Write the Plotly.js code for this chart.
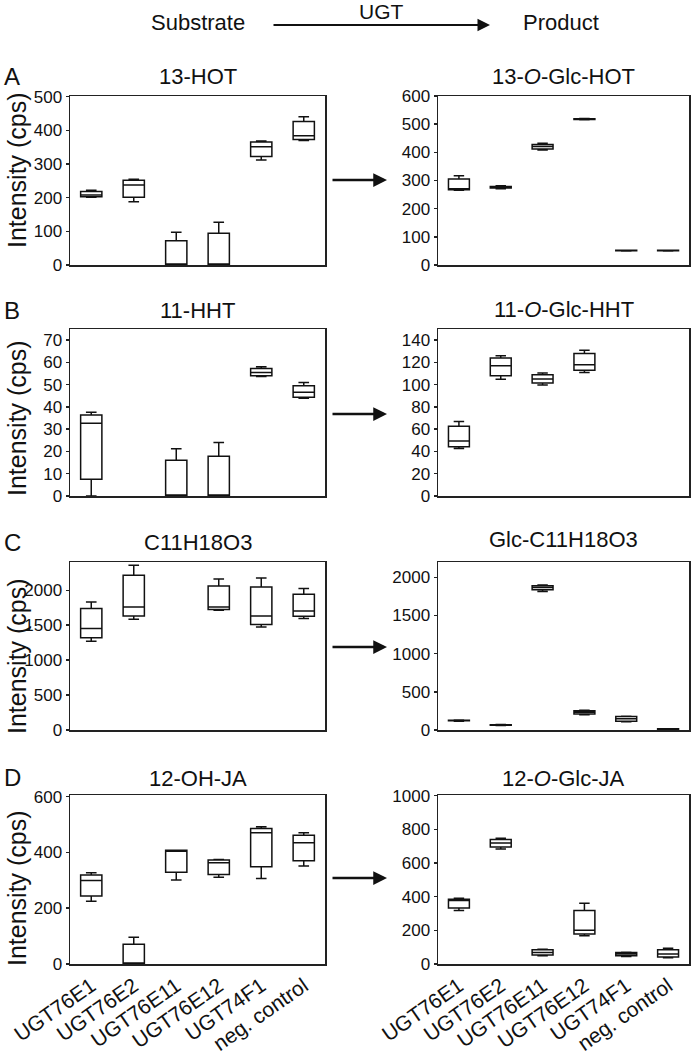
<!DOCTYPE html>
<html>
<head>
<meta charset="utf-8">
<script src="https://cdn.plot.ly/plotly-3.0.1.min.js"></script>
<style>html,body{margin:0;padding:0;background:#fff}#chart{width:693px;height:1056px}</style>
</head>
<body>
<div id="chart"></div>
<script>
// Categories (x axis)
const categories = ['UGT76E1', 'UGT76E2', 'UGT76E11', 'UGT76E12', 'UGT74F1', 'neg. control'];

// Five-number summaries per category: [lower whisker, Q1, median, Q3, upper whisker]; null = no box
const hot13 = [[201,203,208,218,222],[188,201,238,252,255],[0,0,0,72,97],[0,0,0,94,127],[312,322,351,365,368],[370,373,384,426,440]];
const glcHot13 = [[265,267,268,305,317],[271,273,276,279,281],[408,412,421,428,432],[516,517,518,519,520],[50,51,51,52,52],[50,51,51,52,52]];
const hht11 = [[0,7.5,32.7,36.4,37.6],null,[0,0,0,16,21.2],[0,0,0,17.9,24],[53.7,54,55.5,57.3,58],[43.9,44.3,46.6,49.5,51]];
const glcHht11 = [[42.7,44.2,49.3,62.7,67],[104.8,108,117,124,126],[99.7,101.5,105,109,110.4],[111,113,118,128,131],null,null];
const c11h18o3 = [[1271,1319,1452,1738,1833],[1586,1633,1762,2214,2360],null,[1714,1724,1762,2062,2162],[1476,1510,1633,2048,2176],[1595,1629,1705,1943,2024]];
const glcC11h18o3 = [[115,120,124,128,132],[60,63,66,69,72],[1815,1835,1865,1890,1900],[200,208,234,252,258],[108,115,146,177,180],[8,10,13,16,18]];
const ohJa12 = [[225,244,299,319,327],[0,0,0,71,96],[301,329,407,408,408],[311,321,363,373,375],[307,349,471,486,492],[351,370,435,462,471]];
const glcJa12 = [[318,332,377,384,390],[683,695,719,739,747],[49,53,68,84,88],[168,178,201,318,361],[45,49,59,68,70],[37,41,59,84,94]];

// Panel titles and axis setup
const panelData = [hot13, glcHot13, hht11, glcHht11, c11h18o3, glcC11h18o3, ohJa12, glcJa12];
const panelTitles = ['13-HOT', '13-<i>O</i>-Glc-HOT', '11-HHT', '11-<i>O</i>-Glc-HHT', 'C11H18O3', 'Glc-C11H18O3', '12-OH-JA', '12-<i>O</i>-Glc-JA'];
const yRanges = [[0,502],[0,600],[0,75],[0,150],[0,2405],[0,2200],[0,606],[0,1004]];
const yDticks = [100,100,10,20,500,500,200,200];
const rowLetters = ['A','B','C','D'];

const W = 693, H = 1056;
const px = v => v / W;
const py = v => 1 - v / H;

const colX = [[70, 325], [438, 689]];
const rowY = [[96, 265], [329, 496], [562, 730], [795, 964]];
const titleY = [[77, 77], [310, 309], [542, 539], [778, 778]];
const yTitleY = [170, 418, 656, 888];
const letterY = [76, 310, 542, 777];
const arrowY = [180, 414, 647, 878];

const FONT = 'Liberation Sans, Arial, Helvetica, sans-serif';
const traces = [];
const layout = {
  width: W, height: H,
  margin: {l: 0, r: 0, t: 0, b: 0},
  paper_bgcolor: '#fff', plot_bgcolor: '#fff',
  showlegend: false,
  font: {family: FONT, color: '#111'},
  annotations: []
};

panelData.forEach((data, i) => {
  const row = Math.floor(i / 2), col = i % 2;
  const sfx = i === 0 ? '' : String(i + 1);
  const xs = [], lf = [], q1 = [], med = [], q3 = [], uf = [];
  data.forEach((d, k) => {
    if (d) { xs.push(k); lf.push(d[0]); q1.push(d[1]); med.push(d[2]); q3.push(d[3]); uf.push(d[4]); }
  });
  traces.push({
    type: 'box', x: xs, q1: q1, median: med, q3: q3, lowerfence: lf, upperfence: uf,
    xaxis: 'x' + sfx, yaxis: 'y' + sfx,
    width: 0.5, whiskerwidth: 0.5, boxpoints: false,
    fillcolor: 'white', line: {color: '#111', width: 1.5},
    hoverinfo: 'skip'
  });
  layout['xaxis' + sfx] = {
    domain: [px(colX[col][0]), px(colX[col][1])],
    anchor: 'y' + sfx,
    range: [-0.5, 5.5], tickmode: 'array',
    tickvals: categories.map((c, k) => k), ticktext: categories,
    showticklabels: row === 3, tickangle: -35, ticks: '',
    tickfont: {size: 21, family: FONT, color: '#111'},
    showline: true, mirror: true, linecolor: '#222', linewidth: 1.5,
    showgrid: false, zeroline: false, fixedrange: true
  };
  layout['yaxis' + sfx] = {
    domain: [py(rowY[row][1]), py(rowY[row][0])],
    anchor: 'x' + sfx,
    range: yRanges[i], dtick: yDticks[i], tick0: 0,
    ticks: 'outside', ticklen: 3, tickwidth: 1.5, tickcolor: '#222',
    tickfont: {size: 17, family: FONT, color: '#111'},
    showline: true, mirror: true, linecolor: '#222', linewidth: 1.5,
    showgrid: false, zeroline: false, fixedrange: true
  };
  layout.annotations.push({
    text: panelTitles[i], xref: 'paper', yref: 'paper',
    x: px((colX[col][0] + colX[col][1]) / 2), y: py(titleY[row][col]),
    xanchor: 'center', yanchor: 'middle', showarrow: false,
    font: {size: 22, family: FONT, color: '#111'}
  });
});

rowLetters.forEach((L, r) => {
  layout.annotations.push({
    text: L, xref: 'paper', yref: 'paper', x: px(12), y: py(letterY[r]),
    xanchor: 'center', yanchor: 'middle', showarrow: false,
    font: {size: 24, family: FONT, color: '#111'}
  });
  layout.annotations.push({
    text: 'Intensity (cps)', xref: 'paper', yref: 'paper', x: px(17), y: py(yTitleY[r]),
    xanchor: 'center', yanchor: 'middle', textangle: -90, showarrow: false,
    font: {size: 25, family: FONT, color: '#111'}
  });
  layout.annotations.push({
    text: '', xref: 'paper', yref: 'paper', x: px(387), y: py(arrowY[r]),
    ax: -56, ay: 0, showarrow: true, arrowhead: 2, arrowsize: 1.1, arrowwidth: 2.5,
    arrowcolor: '#111', standoff: 0
  });
});

// Header
layout.annotations.push(
  {text: 'Substrate', xref: 'paper', yref: 'paper', x: px(198), y: py(23), xanchor: 'center', yanchor: 'middle', showarrow: false, font: {size: 22, family: FONT, color: '#111'}},
  {text: 'UGT', xref: 'paper', yref: 'paper', x: px(381), y: py(12), xanchor: 'center', yanchor: 'middle', showarrow: false, font: {size: 21, family: FONT, color: '#111'}},
  {text: 'Product', xref: 'paper', yref: 'paper', x: px(561), y: py(23), xanchor: 'center', yanchor: 'middle', showarrow: false, font: {size: 22, family: FONT, color: '#111'}},
  {text: '', xref: 'paper', yref: 'paper', x: px(490), y: py(25), ax: -218, ay: 0, showarrow: true, arrowhead: 2, arrowsize: 1.25, arrowwidth: 2, arrowcolor: '#111', standoff: 0}
);

Plotly.newPlot('chart', traces, layout, {staticPlot: true, displayModeBar: false});
</script>
</body>
</html>
